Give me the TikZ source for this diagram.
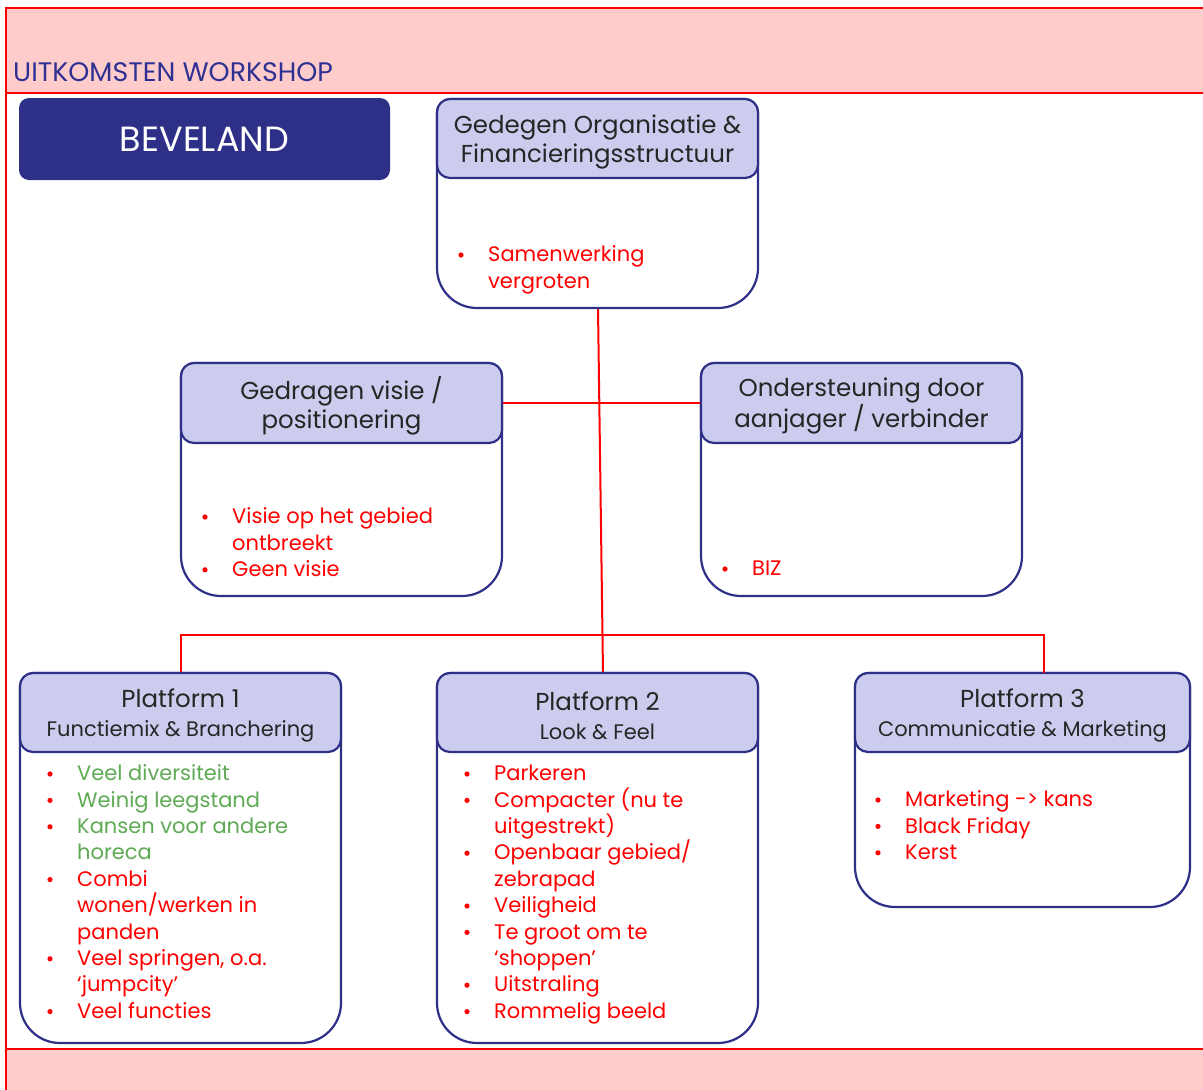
\documentclass[tikz,border=0pt]{standalone}
\usepackage{fontspec}
\setmainfont{Poppins}
\usetikzlibrary{calc}

\definecolor{framered}{RGB}{255,0,0}
\definecolor{bandpink}{RGB}{255,204,204}
\definecolor{navy}{RGB}{46,48,135}
\definecolor{titleblue}{RGB}{46,49,146}
\definecolor{headfill}{RGB}{204,204,238}
\definecolor{itemgreen}{RGB}{95,170,85}

\tikzset{
  frameline/.style={draw=framered, line width=2.6pt},
  panelline/.style={draw=navy, line width=2.2pt},
  headbox/.style={rectangle, rounded corners=13pt, draw=navy, line width=2.2pt,
    fill=headfill, inner sep=0pt},
  headtext/.style={inner sep=0pt, align=center, text=black!85,
    font=\fontsize{24.5}{29}\selectfont},
  conn/.style={draw=framered, line width=2pt},
  itemtext/.style={anchor=mid west, inner sep=0pt, font=\fontsize{21}{26}\selectfont},
  bulletdot/.style={circle, fill=framered, inner sep=0pt, minimum size=5.2pt},
}

% panel: name, left, top, right, header bottom, bottom, header text
\newcommand\panel[7]{%
  \draw[panelline, fill=white] (#2,#5) [rounded corners=14pt] -- (#2,#3) -- (#4,#3)
    -- (#4,#5) [rounded corners=40pt] -- (#4,#6) -- (#2,#6) -- cycle;
  \node[headbox, minimum width={#4-#2}, minimum height={#5-#3}]
    (#1) at ({(#2+#4)/2},{(#3+#5)/2}) {};
  \node[headtext] (#1-title) at ({(#2+#4)/2},{(#3+#5)/2+3}) {#7};
}

% bullet list: prefix, bullet x, text x, first line y, entries bullet/colour/text
\newcommand\itemlist[5]{%
  \foreach \bflag/\tcol/\ttext [count=\i from 0] in {#5} {
    \node[itemtext, text=\tcol] (#1-\i) at (#3,{#4+5+\i*26.4}) {\ttext};
    \ifnum\bflag=1
      \node[bulletdot] (#1-b\i) at (#2,{#4+1+\i*26.4}) {};
    \fi
  }
}

\begin{document}
\begin{tikzpicture}[x=1pt,y=-1pt]
\useasboundingbox (0,0) rectangle (1203,1090);
\fill[white] (0,0) rectangle (1203,1090);

% title band and footer band
\fill[bandpink] (6,8) rectangle (1203,93);
\fill[bandpink] (6,1049) rectangle (1203,1090);
\draw[frameline] (1203,8) -- (6,8) -- (6,1090);
\draw[frameline] (6,93) -- (1203,93);
\draw[frameline] (6,1049) -- (1203,1049);

\node[anchor=base west, inner sep=0pt, text=titleblue,
  font=\fontsize{26.8}{30}\selectfont] (title) at (13,81) {UITKOMSTEN WORKSHOP};

\node[rectangle, rounded corners=10pt, fill=navy, text=white, inner sep=0pt,
  minimum width=371pt, minimum height=82pt, font=\fontsize{35}{40}\selectfont]
  (region) at (204.5,139) {BEVELAND};

% connectors
\coordinate (spinetop) at (598,308);
\coordinate (spinebot) at (603,673);
\coordinate (busright) at (1044,635);
\coordinate (p3drop) at (1044,673);

\draw[conn] (spinetop) -- (spinebot);

% panels
\panel{org}{437}{99}{758}{178}{308}{Gedegen Organisatie \&\\Financieringsstructuur}
\panel{visie}{181}{363}{502}{443}{596}{Gedragen visie /\\positionering}
\panel{steun}{701}{363}{1022}{443}{596}{Ondersteuning door\\aanjager / verbinder}
\panel{p1}{20}{673}{341}{752}{1043}{Platform 1\\{\fontsize{21}{29}\selectfont Functiemix \& Branchering}}
\panel{p2}{437}{673}{758}{752}{1043}{Platform 2\\{\fontsize{21}{29}\selectfont Look \& Feel}}
\panel{p3}{855}{673}{1190}{752}{907}{Platform 3\\{\fontsize{21}{29}\selectfont Communicatie \& Marketing}}

\draw[conn] (visie.east) -- (steun.west);
\draw[conn] (p1.north) |- (busright) -- (p3drop);

% contents
\itemlist{orgi}{461}{488}{254}{1/framered/Samenwerking, 0/framered/vergroten}
\itemlist{visiei}{205}{232}{516}{1/framered/Visie op het gebied, 0/framered/ontbreekt, 1/framered/Geen visie}
\itemlist{steuni}{725}{752}{568}{1/framered/BIZ}
\itemlist{p1i}{50}{77}{773}{1/itemgreen/Veel diversiteit, 1/itemgreen/Weinig leegstand,
  1/itemgreen/Kansen voor andere, 0/itemgreen/horeca, 1/framered/Combi,
  0/framered/{wonen/werken in}, 0/framered/panden, 1/framered/{Veel springen, o.a.},
  0/framered/‘jumpcity’, 1/framered/Veel functies}
\itemlist{p2i}{467}{494}{773}{1/framered/Parkeren, 1/framered/Compacter (nu te,
  0/framered/uitgestrekt), 1/framered/{Openbaar gebied/}, 0/framered/zebrapad,
  1/framered/Veiligheid, 1/framered/Te groot om te, 0/framered/`shoppen’,
  1/framered/Uitstraling, 1/framered/Rommelig beeld}
\itemlist{p3i}{878}{905}{799}{1/framered/Marketing -> kans, 1/framered/Black Friday, 1/framered/Kerst}
\end{tikzpicture}
\end{document}
